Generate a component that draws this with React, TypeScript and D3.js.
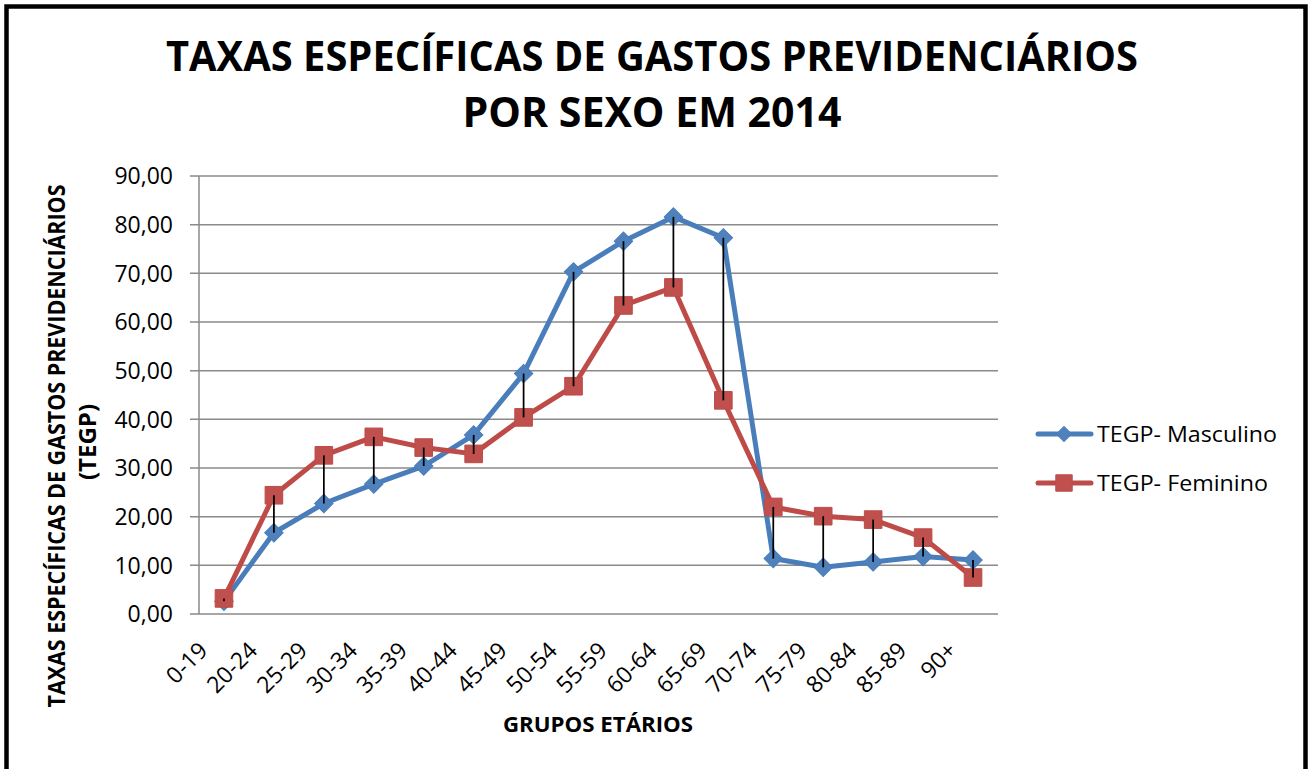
import React, { useEffect, useRef } from 'react';
import * as d3 from 'd3';

const categories = ['0-19', '20-24', '25-29', '30-34', '35-39', '40-44', '45-49', '50-54', '55-59', '60-64', '65-69', '70-74', '75-79', '80-84', '85-89', '90+'];
const masculino = [2.6, 16.7, 22.7, 26.7, 30.4, 36.8, 49.4, 70.3, 76.6, 81.6, 77.3, 11.4, 9.6, 10.7, 11.8, 11.1];
const feminino = [3.2, 24.4, 32.6, 36.4, 34.2, 32.9, 40.4, 46.8, 63.4, 67.1, 43.9, 22.0, 20.1, 19.4, 15.7, 7.5];
const yTicks = [0, 10, 20, 30, 40, 50, 60, 70, 80, 90];
const legendLabels = ['TEGP- Masculino', 'TEGP- Feminino'];

const FONT = '"Open Sans", "Liberation Sans", sans-serif';
const BLUE = '#4A7EBB';
const BLUE_FILL = '#4F81BD';
const RED = '#BE4B48';
const RED_FILL = '#C0504D';

const App = () => {
  const svgRef = useRef<SVGSVGElement>(null);

  useEffect(() => {
    if (!svgRef.current) return;
    const svg = d3.select(svgRef.current);
    svg.selectAll('*').remove();

    const width = 1315;
    const height = 769;
    const plot = { left: 199, right: 998, top: 176, bottom: 614 };

    const x = d3.scaleBand<string>().domain(categories).range([plot.left, plot.right]).padding(0);
    const cx = (c: string) => (x(c) ?? 0) + x.bandwidth() / 2;
    const y = d3.scaleLinear().domain([0, 90]).range([plot.bottom, plot.top]);

    svg.append('rect').attr('width', width).attr('height', height).attr('fill', '#fff');

    // outer frame
    svg.append('rect')
      .attr('x', 6.5).attr('y', 6.5)
      .attr('width', 1299).attr('height', 800)
      .attr('fill', 'none').attr('stroke', '#000').attr('stroke-width', 4.5);

    // title
    const title = svg.append('g')
      .attr('font-family', FONT).attr('font-weight', 700).attr('fill', '#000')
      .attr('text-anchor', 'middle');
    title.append('text').attr('x', 652).attr('y', 71).attr('font-size', 41)
      .attr('textLength', 972).attr('lengthAdjust', 'spacingAndGlyphs')
      .text('TAXAS ESPECÍFICAS DE GASTOS PREVIDENCIÁRIOS');
    title.append('text').attr('x', 652).attr('y', 127).attr('font-size', 41)
      .attr('textLength', 379).attr('lengthAdjust', 'spacingAndGlyphs')
      .text('POR SEXO EM 2014');

    // gridlines + y ticks
    const grid = svg.append('g');
    yTicks.forEach(t => {
      grid.append('line')
        .attr('x1', plot.left - 9).attr('x2', plot.right)
        .attr('y1', y(t)).attr('y2', y(t))
        .attr('stroke', '#8a8a8a').attr('stroke-width', 1.5);
      grid.append('text')
        .attr('x', 173).attr('y', y(t))
        .attr('dy', '0.36em')
        .attr('text-anchor', 'end')
        .attr('font-family', FONT).attr('font-size', 23).attr('fill', '#000')
        .text(d3.format('.2f')(t).replace('.', ','));
    });
    grid.append('line')
      .attr('x1', plot.left).attr('x2', plot.left)
      .attr('y1', plot.top).attr('y2', plot.bottom)
      .attr('stroke', '#8a8a8a').attr('stroke-width', 1.5);

    // x labels
    const xl = svg.append('g').attr('font-family', FONT).attr('font-size', 23).attr('fill', '#000');
    categories.forEach(c => {
      xl.append('text')
        .attr('transform', `translate(${cx(c) - 15},${plot.bottom + 38}) rotate(-45)`)
        .attr('text-anchor', 'end')
        .text(c);
    });

    // axis titles
    svg.append('text')
      .attr('x', 598).attr('y', 732)
      .attr('text-anchor', 'middle')
      .attr('font-family', FONT).attr('font-weight', 700).attr('font-size', 21)
      .attr('textLength', 190).attr('lengthAdjust', 'spacingAndGlyphs')
      .text('GRUPOS ETÁRIOS');
    svg.append('text')
      .attr('transform', 'translate(65,446) rotate(-90)')
      .attr('text-anchor', 'middle')
      .attr('font-family', FONT).attr('font-weight', 700).attr('font-size', 24)
      .attr('textLength', 523).attr('lengthAdjust', 'spacingAndGlyphs')
      .text('TAXAS ESPECÍFICAS DE GASTOS PREVIDENCIÁRIOS');
    svg.append('text')
      .attr('transform', 'translate(96,442) rotate(-90)')
      .attr('text-anchor', 'middle')
      .attr('font-family', FONT).attr('font-weight', 700).attr('font-size', 24)
      .text('(TEGP)');

    const line = d3.line<number>()
      .x((_, i) => cx(categories[i]))
      .y(d => y(d));

    const diamond = d3.symbol().type(d3.symbolSquare).size(170);
    const square = d3.symbol().type(d3.symbolSquare).size(310);

    const series = [
      { values: masculino, stroke: BLUE, fill: BLUE_FILL, shape: 'diamond' },
      { values: feminino, stroke: RED, fill: RED_FILL, shape: 'square' },
    ];

    series.forEach(s => {
      svg.append('path')
        .attr('d', line(s.values))
        .attr('fill', 'none').attr('stroke', s.stroke)
        .attr('stroke-width', 5).attr('stroke-linejoin', 'round').attr('stroke-linecap', 'round');
    });
    series.forEach(s => {
      svg.append('g').selectAll('path')
        .data(s.values)
        .join('path')
        .attr('d', s.shape === 'diamond' ? diamond() : square())
        .attr('transform', (d, i) => `translate(${cx(categories[i])},${y(d)})${s.shape === 'diamond' ? ' rotate(45)' : ''}`)
        .attr('fill', s.fill).attr('stroke', s.stroke).attr('stroke-width', 1);
    });

    // high-low lines
    svg.append('g').selectAll('line')
      .data(categories)
      .join('line')
      .attr('x1', c => cx(c)).attr('x2', c => cx(c))
      .attr('y1', (_, i) => y(masculino[i])).attr('y2', (_, i) => y(feminino[i]))
      .attr('stroke', '#000').attr('stroke-width', 1.75);

    // legend
    const legend = svg.append('g');
    series.forEach((s, i) => {
      const ly = 434 + i * 49;
      legend.append('line')
        .attr('x1', 1038).attr('x2', 1091).attr('y1', ly).attr('y2', ly)
        .attr('stroke', s.stroke).attr('stroke-width', 5).attr('stroke-linecap', 'round');
      legend.append('path')
        .attr('d', s.shape === 'diamond' ? d3.symbol().type(d3.symbolSquare).size(115)() : d3.symbol().type(d3.symbolSquare).size(270)())
        .attr('transform', `translate(1064,${ly})${s.shape === 'diamond' ? ' rotate(45)' : ''}`)
        .attr('fill', s.fill).attr('stroke', s.stroke);
      legend.append('text')
        .attr('x', 1097).attr('y', ly).attr('dy', '0.36em')
        .attr('font-family', FONT).attr('font-size', 22).attr('fill', '#000')
        .attr('textLength', i === 0 ? 180 : 171).attr('lengthAdjust', 'spacingAndGlyphs')
        .text(legendLabels[i]);
    });
  }, []);

  return (
    <svg
      ref={svgRef}
      width={1315}
      height={769}
      style={{ position: 'absolute', left: 0, top: 0, display: 'block' }}
    />
  );
};

export default App;
